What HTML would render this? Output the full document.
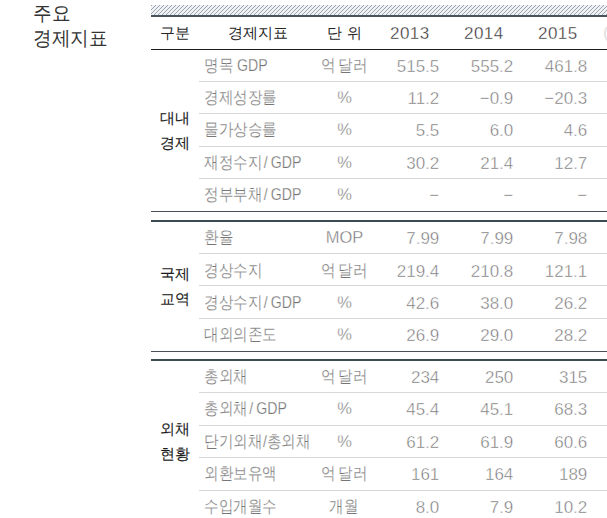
<!DOCTYPE html>
<html lang="ko"><head><meta charset="utf-8"><style>
html,body{margin:0;padding:0;background:#fff;}
body{width:607px;height:518px;overflow:hidden;position:relative;font-family:"Liberation Sans",sans-serif;}
.a{position:absolute;white-space:nowrap;line-height:20px;}
.t{font-size:20px;color:#333;left:32.6px;line-height:25px;transform:scaleX(0.93);transform-origin:0 0;}
.hatch{position:absolute;left:151px;top:5px;width:456px;height:10px;}
.ln{position:absolute;left:151px;width:456px;}
.sep{position:absolute;left:199px;width:408px;height:1px;background:#d8d8d8;}
.h{font-size:15px;color:#262626;}
.hn{font-size:17px;color:#2a2a2a;-webkit-text-stroke:0.35px #fff;letter-spacing:0.4px;}
.s{font-size:15px;color:#1a1a1a;font-weight:normal;-webkit-text-stroke:0.12px #1a1a1a;line-height:25px;text-align:center;width:48px;left:151px;}
.k{font-size:16.5px;color:#767676;-webkit-text-stroke:0.25px #fff;transform:scaleX(0.855);transform-origin:0 0;}
.u{font-size:16.5px;color:#767676;-webkit-text-stroke:0.35px #fff;}
.uk{font-size:16.5px;color:#767676;-webkit-text-stroke:0.25px #fff;transform:scaleX(0.855) translateX(-50%);transform-origin:0 0;}
.sp{letter-spacing:-1px;}
.l{}
.lu{letter-spacing:0;font-size:16.5px;}
.sl{padding:0 3.5px 0 2px;}
.sl2{padding:0 0 0 1px;}
.n{font-size:17px;color:#727272;-webkit-text-stroke:0.45px #fff;text-align:right;}
.c{text-align:center;}
</style></head><body>
<div class="a t" style="top:1px">주요<br>경제지표</div>
<svg class="hatch" width="456" height="10" viewBox="0 0 456 10" shape-rendering="crispEdges"><defs><pattern id="hp" width="4" height="4" patternUnits="userSpaceOnUse"><rect width="4" height="4" fill="#eef2f6"/><rect x="0" y="0" width="1" height="1" fill="#9ba2aa"/><rect x="3" y="1" width="1" height="1" fill="#9ba2aa"/><rect x="2" y="2" width="1" height="1" fill="#9ba2aa"/><rect x="1" y="3" width="1" height="1" fill="#9ba2aa"/></pattern></defs><rect width="456" height="10" fill="url(#hp)"/></svg>
<div class="ln" style="top:15px;height:2px;background:#47535d"></div>
<div class="ln" style="top:49px;height:1px;background:#1e1e1e"></div>

<div class="a h c" style="left:151px;width:48px;top:23px">구분</div>
<div class="a h c" style="left:199px;width:117px;top:23px">경제지표</div>
<div class="a h c" style="left:316px;width:57px;top:23px">단 위</div>
<div class="a hn c" style="left:372.8px;width:74px;top:24px">2013</div>
<div class="a hn c" style="left:446.8px;width:74px;top:24px">2014</div>
<div class="a hn c" style="left:520.8px;width:74px;top:24px">2015</div>
<div class="a" style="left:603px;top:23px;font-size:17px;color:#dedede">(</div>
<div class="a s" style="top:105.4px">대내<br>경제</div>
<div class="a s" style="top:261.0px">국제<br>교역</div>
<div class="a s" style="top:416.0px">외채<br>현황</div>
<div class="a k" style="left:204px;top:55.2px">명목<span class="l"> GDP</span></div>
<div class="a uk" style="left:344.2px;top:55.2px">억<span class=sp> </span>달러</div>
<div class="a n" style="left:365.3px;width:74px;top:57.2px">515.5</div>
<div class="a n" style="left:439.3px;width:74px;top:57.2px">555.2</div>
<div class="a n" style="left:513.3px;width:74px;top:57.2px">461.8</div>
<div class="a k" style="left:204px;top:87.4px">경제성장률</div>
<div class="a u c" style="left:316px;width:57px;top:87.4px">%</div>
<div class="a n" style="left:365.3px;width:74px;top:89.4px">11.2</div>
<div class="a n" style="left:439.3px;width:74px;top:89.4px">−0.9</div>
<div class="a n" style="left:513.3px;width:74px;top:89.4px">−20.3</div>
<div class="a k" style="left:204px;top:119.2px">물가상승률</div>
<div class="a u c" style="left:316px;width:57px;top:119.2px">%</div>
<div class="a n" style="left:365.3px;width:74px;top:121.2px">5.5</div>
<div class="a n" style="left:439.3px;width:74px;top:121.2px">6.0</div>
<div class="a n" style="left:513.3px;width:74px;top:121.2px">4.6</div>
<div class="a k" style="left:204px;top:151.7px">재정수지<span class="l"><span class="sl">/</span>GDP</span></div>
<div class="a u c" style="left:316px;width:57px;top:151.7px">%</div>
<div class="a n" style="left:365.3px;width:74px;top:153.7px">30.2</div>
<div class="a n" style="left:439.3px;width:74px;top:153.7px">21.4</div>
<div class="a n" style="left:513.3px;width:74px;top:153.7px">12.7</div>
<div class="a k" style="left:204px;top:184.0px">정부부채<span class="l"><span class="sl">/</span>GDP</span></div>
<div class="a u c" style="left:316px;width:57px;top:184.0px">%</div>
<div class="a n" style="left:365.3px;width:74px;top:186.0px">−</div>
<div class="a n" style="left:439.3px;width:74px;top:186.0px">−</div>
<div class="a n" style="left:513.3px;width:74px;top:186.0px">−</div>
<div class="a k" style="left:204px;top:226.8px">환율</div>
<div class="a u c" style="left:316px;width:57px;top:226.8px">MOP</div>
<div class="a n" style="left:365.3px;width:74px;top:228.8px">7.99</div>
<div class="a n" style="left:439.3px;width:74px;top:228.8px">7.99</div>
<div class="a n" style="left:513.3px;width:74px;top:228.8px">7.98</div>
<div class="a k" style="left:204px;top:259.8px">경상수지</div>
<div class="a uk" style="left:344.2px;top:259.8px">억<span class=sp> </span>달러</div>
<div class="a n" style="left:365.3px;width:74px;top:261.8px">219.4</div>
<div class="a n" style="left:439.3px;width:74px;top:261.8px">210.8</div>
<div class="a n" style="left:513.3px;width:74px;top:261.8px">121.1</div>
<div class="a k" style="left:204px;top:292.0px">경상수지<span class="l"><span class="sl">/</span>GDP</span></div>
<div class="a u c" style="left:316px;width:57px;top:292.0px">%</div>
<div class="a n" style="left:365.3px;width:74px;top:294.0px">42.6</div>
<div class="a n" style="left:439.3px;width:74px;top:294.0px">38.0</div>
<div class="a n" style="left:513.3px;width:74px;top:294.0px">26.2</div>
<div class="a k" style="left:204px;top:324.4px">대외의존도</div>
<div class="a u c" style="left:316px;width:57px;top:324.4px">%</div>
<div class="a n" style="left:365.3px;width:74px;top:326.4px">26.9</div>
<div class="a n" style="left:439.3px;width:74px;top:326.4px">29.0</div>
<div class="a n" style="left:513.3px;width:74px;top:326.4px">28.2</div>
<div class="a k" style="left:204px;top:365.7px">총외채</div>
<div class="a uk" style="left:344.2px;top:365.7px">억<span class=sp> </span>달러</div>
<div class="a n" style="left:365.3px;width:74px;top:367.7px">234</div>
<div class="a n" style="left:439.3px;width:74px;top:367.7px">250</div>
<div class="a n" style="left:513.3px;width:74px;top:367.7px">315</div>
<div class="a k" style="left:204px;top:397.8px">총외채<span class="l"><span class="sl">/</span>GDP</span></div>
<div class="a u c" style="left:316px;width:57px;top:397.8px">%</div>
<div class="a n" style="left:365.3px;width:74px;top:399.8px">45.4</div>
<div class="a n" style="left:439.3px;width:74px;top:399.8px">45.1</div>
<div class="a n" style="left:513.3px;width:74px;top:399.8px">68.3</div>
<div class="a k" style="left:204px;top:431.2px">단기외채<span class="l"><span class="sl2">/</span></span>총외채</div>
<div class="a u c" style="left:316px;width:57px;top:431.2px">%</div>
<div class="a n" style="left:365.3px;width:74px;top:433.2px">61.2</div>
<div class="a n" style="left:439.3px;width:74px;top:433.2px">61.9</div>
<div class="a n" style="left:513.3px;width:74px;top:433.2px">60.6</div>
<div class="a k" style="left:204px;top:463.3px">외환보유액</div>
<div class="a uk" style="left:344.2px;top:463.3px">억<span class=sp> </span>달러</div>
<div class="a n" style="left:365.3px;width:74px;top:465.3px">161</div>
<div class="a n" style="left:439.3px;width:74px;top:465.3px">164</div>
<div class="a n" style="left:513.3px;width:74px;top:465.3px">189</div>
<div class="a k" style="left:204px;top:496.3px">수입개월수</div>
<div class="a uk" style="left:344.2px;top:496.3px">개월</div>
<div class="a n" style="left:365.3px;width:74px;top:498.3px">8.0</div>
<div class="a n" style="left:439.3px;width:74px;top:498.3px">7.9</div>
<div class="a n" style="left:513.3px;width:74px;top:498.3px">10.2</div>
<div class="sep" style="top:81px"></div>
<div class="sep" style="top:113px"></div>
<div class="sep" style="top:146px"></div>
<div class="sep" style="top:178px"></div>
<div class="sep" style="top:253px"></div>
<div class="sep" style="top:285px"></div>
<div class="sep" style="top:318px"></div>
<div class="sep" style="top:392px"></div>
<div class="sep" style="top:425px"></div>
<div class="sep" style="top:457px"></div>
<div class="sep" style="top:490px"></div>
<div class="ln" style="top:211px;height:1px;background:#4a5056"></div>
<div class="ln" style="top:220px;height:2px;background:#3c4a54"></div>
<div class="ln" style="top:351px;height:1px;background:#4a5056"></div>
<div class="ln" style="top:359px;height:2px;background:#3c4a54"></div>
</body></html>
